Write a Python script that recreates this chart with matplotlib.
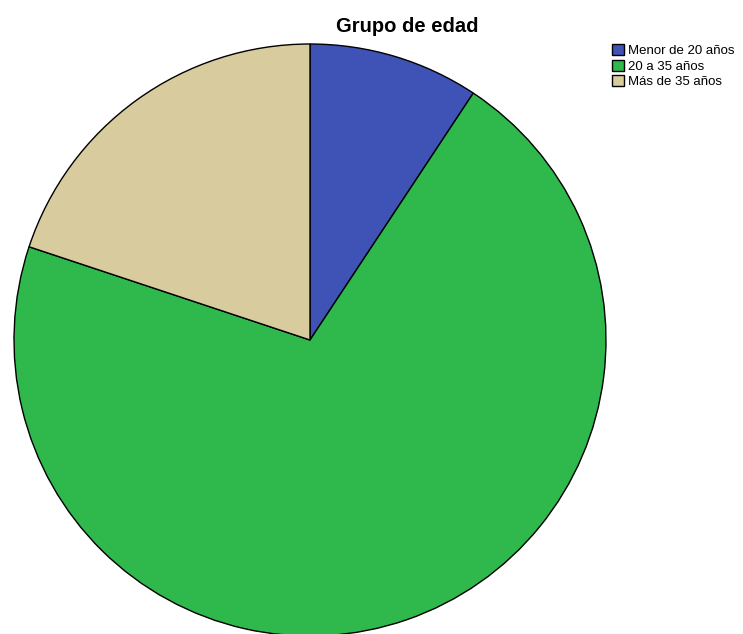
import matplotlib
matplotlib.use("Agg")
import matplotlib.pyplot as plt

plt.rcParams['font.family'] = ['Liberation Sans', 'DejaVu Sans']

categories = ["Menor de 20 años", "20 a 35 años", "Más de 35 años"]
values = [9.3, 70.8, 19.9]
colors = ["#3F52B5", "#2FB84C", "#D8CC9E"]
title = "Grupo de edad"

W, H = 743, 634
fig = plt.figure(figsize=(W / 100, H / 100), dpi=100)
ax = fig.add_axes([0, 0, 1, 1])
wedges, _ = ax.pie(values, colors=colors, startangle=90, counterclock=False,
                   center=(310, H - 340), radius=296,
                   wedgeprops=dict(edgecolor="black", linewidth=1.0))
ax.set_xlim(0, W)
ax.set_ylim(0, H)
ax.set_aspect("equal")
ax.axis("off")

fig.text(407 / W, 1 - 26 / H, title, ha="center", va="center",
         fontsize=14.5, fontweight="bold")

ax.legend(wedges, categories, loc="upper left",
          bbox_to_anchor=(612 / W, 1 - 44 / H), bbox_transform=fig.transFigure,
          frameon=False, fontsize=9.5, handlelength=0.9, handleheight=0.9,
          handletextpad=0.3, labelspacing=0.2, borderaxespad=0, borderpad=0)

fig.savefig("out.png", dpi=100)
